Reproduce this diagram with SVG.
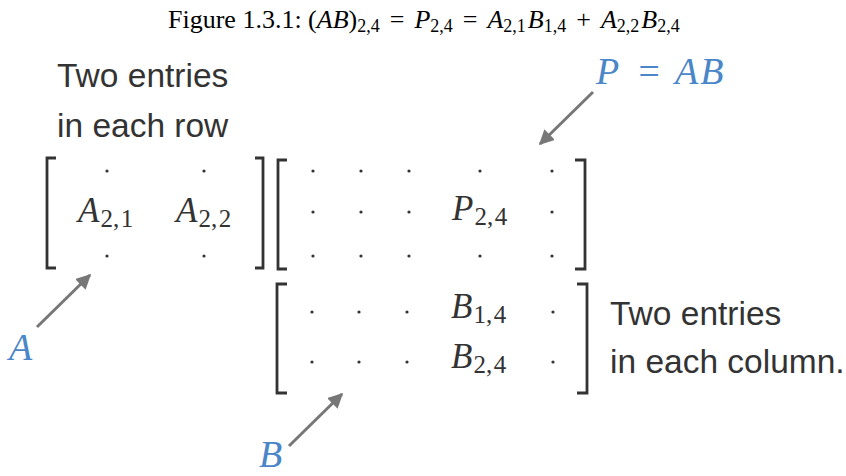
<svg xmlns="http://www.w3.org/2000/svg" width="846" height="476" viewBox="0 0 846 476">
<defs>
<style>
.title{font-family:"Liberation Serif","Times New Roman",serif;font-size:26px;fill:#000}
.ts{font-size:18px}
.note{font-family:"Liberation Sans",Arial,sans-serif;font-size:33.5px;fill:#333}
.math{font-family:"Liberation Serif","Times New Roman",serif;font-size:35px;fill:#333}
.mi{font-style:italic}
.sub{font-size:25px}
.lab{font-family:"Liberation Serif","Times New Roman",serif;font-size:38px;font-style:italic;fill:#4a86c8}
.br{fill:none;stroke:#333;stroke-width:2.8}
.dot{fill:#333}
.arr{stroke:#777;stroke-width:3;fill:none;marker-end:url(#ah)}
</style>
<marker id="ah" viewBox="0 0 10 10" refX="9" refY="5" markerWidth="5" markerHeight="5" orient="auto" markerUnits="strokeWidth">
<path d="M0,0 L10,5 L0,10 z" fill="#777"/>
</marker>
</defs>
<rect width="846" height="476" fill="#fff"/>
<g id="title">
<text class="title" x="168" y="28">Figure 1.3.1: (<tspan font-style="italic">AB</tspan>)<tspan class="ts" dy="4">2,4</tspan><tspan dy="-4" dx="10">=</tspan><tspan dx="10" font-style="italic">P</tspan><tspan class="ts" dy="4">2,4</tspan><tspan dy="-4" dx="10">=</tspan><tspan dx="10" font-style="italic">A</tspan><tspan class="ts" dy="4">2,1</tspan><tspan dy="-4" dx="2" font-style="italic">B</tspan><tspan class="ts" dy="4">1,4</tspan><tspan dy="-4" dx="10">+</tspan><tspan dx="10" font-style="italic">A</tspan><tspan class="ts" dy="4">2,2</tspan><tspan dy="-4" dx="2" font-style="italic">B</tspan><tspan class="ts" dy="4">2,4</tspan></text>
</g>
<g id="note-row">
<text class="note" x="57" y="87">Two entries</text>
<text class="note" x="57" y="137">in each row</text>
</g>
<g id="matrix-A">
<path class="br" d="M56,158 H47 V268 H56"/>
<path class="br" d="M255,158 H263 V268 H255"/>
<circle class="dot" cx="107" cy="171" r="1.6"/>
<circle class="dot" cx="204" cy="171" r="1.6"/>
<circle class="dot" cx="107" cy="256" r="1.6"/>
<circle class="dot" cx="204" cy="256" r="1.6"/>
<text class="math" x="78" y="222"><tspan class="mi">A</tspan><tspan class="sub" dy="5" dx="1">2,<tspan dx="1.5">1</tspan></tspan></text>
<text class="math" x="176" y="222"><tspan class="mi">A</tspan><tspan class="sub" dy="5" dx="1">2,<tspan dx="1.5">2</tspan></tspan></text>
</g>
<g id="matrix-P">
<path class="br" d="M287,160 H278 V269 H287"/>
<path class="br" d="M575,160 H585 V269 H575"/>
<g>
<circle class="dot" cx="313" cy="171" r="1.6"/><circle class="dot" cx="361" cy="171" r="1.6"/><circle class="dot" cx="409" cy="171" r="1.6"/><circle class="dot" cx="480" cy="171" r="1.6"/><circle class="dot" cx="552" cy="171" r="1.6"/>
<circle class="dot" cx="313" cy="212" r="1.6"/><circle class="dot" cx="361" cy="212" r="1.6"/><circle class="dot" cx="409" cy="212" r="1.6"/><circle class="dot" cx="552" cy="212" r="1.6"/>
<circle class="dot" cx="313" cy="256" r="1.6"/><circle class="dot" cx="361" cy="256" r="1.6"/><circle class="dot" cx="409" cy="256" r="1.6"/><circle class="dot" cx="480" cy="256" r="1.6"/><circle class="dot" cx="552" cy="256" r="1.6"/>
</g>
<text class="math" x="452" y="220"><tspan class="mi">P</tspan><tspan class="sub" dy="5" dx="1">2,<tspan dx="1.5">4</tspan></tspan></text>
</g>
<g id="matrix-B">
<path class="br" d="M287,284 H277 V393 H287"/>
<path class="br" d="M577,284 H587 V393 H577"/>
<circle class="dot" cx="312" cy="312" r="1.6"/><circle class="dot" cx="359" cy="312" r="1.6"/><circle class="dot" cx="407" cy="312" r="1.6"/><circle class="dot" cx="553" cy="312" r="1.6"/>
<circle class="dot" cx="312" cy="362" r="1.6"/><circle class="dot" cx="359" cy="362" r="1.6"/><circle class="dot" cx="407" cy="362" r="1.6"/><circle class="dot" cx="553" cy="362" r="1.6"/>
<text class="math" x="451" y="318"><tspan class="mi">B</tspan><tspan class="sub" dy="5" dx="1">1,<tspan dx="1.5">4</tspan></tspan></text>
<text class="math" x="451" y="368"><tspan class="mi">B</tspan><tspan class="sub" dy="5" dx="1">2,<tspan dx="1.5">4</tspan></tspan></text>
</g>
<g id="note-col">
<text class="note" x="610" y="325">Two entries</text>
<text class="note" x="610" y="373">in each column.</text>
</g>
<g id="label-A"><text class="lab" x="9" y="360">A</text></g>
<g id="label-B"><text class="lab" x="259" y="467">B</text></g>
<g id="label-P">
<text class="lab" x="596" y="84">P</text>
<text class="lab" x="636" y="84" font-style="normal">=</text>
<text class="lab" x="675" y="84" letter-spacing="2">AB</text>
</g>
<g id="connectors">
<path class="arr" d="M37,327 L90,275"/>
<path class="arr" d="M289,446 L342,394"/>
<path class="arr" d="M593,92 L540,144"/>
</g>
</svg>
